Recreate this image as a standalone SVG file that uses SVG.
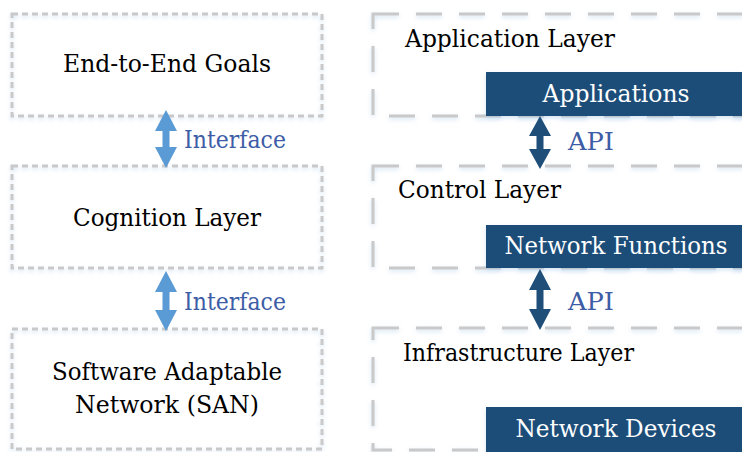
<svg xmlns="http://www.w3.org/2000/svg" width="742" height="452" viewBox="0 0 742 452">
<defs>
<filter id="glow" x="-10%" y="-10%" width="120%" height="130%">
<feDropShadow dx="0" dy="2" stdDeviation="2" flood-color="#9dc3e6" flood-opacity="0.45"/>
</filter>
<style>
.lbox{fill:none;stroke:#c9c9c9;stroke-width:3;stroke-dasharray:6 4;filter:url(#glow)}
.rbox{fill:none;stroke:#c9c9c9;stroke-width:3;stroke-dasharray:26 17;filter:url(#glow)}
.dbox{fill:#1f4e79;filter:url(#glow)}
text{font-family:'DejaVu Serif',serif;font-size:25px}
.t{fill:#000}
.c{text-anchor:middle}
.w{fill:#fff}
.lbl{fill:#3d5da6}
.la{fill:#5b9bd5}
.da{fill:#1f4e79}
</style>
</defs>
<rect width="742" height="452" fill="#fff"/>

<g id="end-to-end-goals">
<rect class="lbox" x="12" y="14" width="310" height="102"/>
<text class="t c" x="167" y="72" textLength="208" lengthAdjust="spacingAndGlyphs">End-to-End Goals</text>
</g>
<g id="cognition-layer">
<rect class="lbox" x="12" y="166" width="310" height="102"/>
<text class="t c" x="167" y="226" textLength="188" lengthAdjust="spacingAndGlyphs">Cognition Layer</text>
</g>
<g id="san">
<rect class="lbox" x="12" y="329" width="310" height="120"/>
<text class="t c" x="167" y="380" textLength="230" lengthAdjust="spacingAndGlyphs">Software Adaptable</text>
<text class="t c" x="167" y="413" textLength="184" lengthAdjust="spacingAndGlyphs">Network (SAN)</text>
</g>

<g id="application-layer">
<rect class="rbox" x="373" y="14" width="400" height="102"/>
<text class="t" x="405" y="47" textLength="210" lengthAdjust="spacingAndGlyphs">Application Layer</text>
</g>
<g id="applications">
<rect class="dbox" x="486" y="72" width="270" height="44"/>
<text class="t c w" x="616" y="102" textLength="147" lengthAdjust="spacingAndGlyphs">Applications</text>
</g>
<g id="control-layer">
<rect class="rbox" x="373" y="166" width="400" height="102"/>
<text class="t" x="398" y="198" textLength="163" lengthAdjust="spacingAndGlyphs">Control Layer</text>
</g>
<g id="network-functions">
<rect class="dbox" x="486" y="225" width="270" height="43"/>
<text class="t c w" x="616" y="254" textLength="223" lengthAdjust="spacingAndGlyphs">Network Functions</text>
</g>
<g id="infrastructure-layer">
<rect class="rbox" x="373" y="328" width="400" height="122"/>
<text class="t" x="403" y="361" textLength="231" lengthAdjust="spacingAndGlyphs">Infrastructure Layer</text>
</g>
<g id="network-devices">
<rect class="dbox" x="486" y="407" width="270" height="50"/>
<text class="t c w" x="616" y="437" textLength="201" lengthAdjust="spacingAndGlyphs">Network Devices</text>
</g>

<g id="connectors">
<path class="la" d="M166,110 L177,131 L169.5,131 L169.5,147 L177,147 L166,168 L155,147 L162.5,147 L162.5,131 L155,131 Z"/>
<text class="lbl" x="184" y="148" textLength="102" lengthAdjust="spacingAndGlyphs">Interface</text>
<path class="la" d="M166,271 L177,292 L169.5,292 L169.5,310 L177,310 L166,331 L155,310 L162.5,310 L162.5,292 L155,292 Z"/>
<text class="lbl" x="184" y="310" textLength="102" lengthAdjust="spacingAndGlyphs">Interface</text>
<path class="da" d="M540,116 L551,136 L543.5,136 L543.5,149 L551,149 L540,169 L529,149 L536.5,149 L536.5,136 L529,136 Z"/>
<text class="lbl" x="568" y="150" textLength="46" lengthAdjust="spacingAndGlyphs">API</text>
<path class="da" d="M540,269 L551,290 L543.5,290 L543.5,309 L551,309 L540,330 L529,309 L536.5,309 L536.5,290 L529,290 Z"/>
<text class="lbl" x="568" y="310" textLength="46" lengthAdjust="spacingAndGlyphs">API</text>
</g>
</svg>
